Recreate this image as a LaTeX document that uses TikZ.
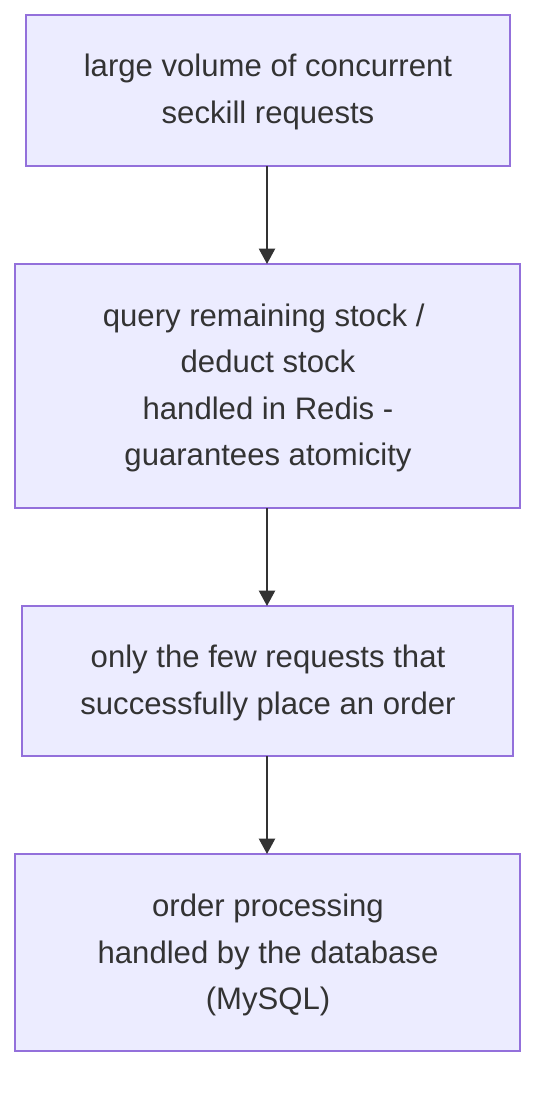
\documentclass[tikz,border=0pt]{standalone}
\usepackage{fontspec}
\setmainfont{Liberation Sans}
\usetikzlibrary{arrows.meta}
\definecolor{boxfill}{HTML}{ECECFF}
\definecolor{boxline}{HTML}{9370DB}
\definecolor{txt}{HTML}{333333}
\newcommand{\tsp}{\hspace*{0.278em}}
\tikzset{
  flowbox/.style={draw=boxline, fill=boxfill, line width=1.5pt, text=txt, align=center, font=\fontsize{22.4pt}{33.3pt}\selectfont, inner sep=0pt},
  flowarrow/.style={draw=txt, line width=1.5pt, -{Triangle[length=11pt,width=11.5pt]}}
}
\begin{document}
\begin{tikzpicture}[x=0.72pt,y=-0.72pt]
\useasboundingbox (0,0) rectangle (552,1100);
\path[flowbox] (26,15) rectangle (510,166);
\node[flowbox, draw=none, fill=none] (a) at (268,92) {large volume of concurrent\\seckill requests};
\path[flowbox] (15,264) rectangle (520,508);
\node[flowbox, draw=none, fill=none] (b) at (268,388) {query remaining stock /\tsp\\deduct stock\\handled in Redis -\\guarantees atomicity};
\path[flowbox] (22,606) rectangle (513,756);
\node[flowbox, draw=none, fill=none] (c) at (268,683) {only the few requests that\\successfully place an order};
\path[flowbox] (15,854) rectangle (520,1051);
\node[flowbox, draw=none, fill=none] (d) at (268,955) {order processing\\handled by the database\tsp\\(MySQL)};
\coordinate (a1) at (267,166);
\coordinate (b0) at (267,264);
\coordinate (b1) at (267,508);
\coordinate (c0) at (267,606);
\coordinate (c1) at (267,756);
\coordinate (d0) at (267,854);
\draw[flowarrow] (a1) -- (b0);
\draw[flowarrow] (b1) -- (c0);
\draw[flowarrow] (c1) -- (d0);
\end{tikzpicture}
\end{document}
